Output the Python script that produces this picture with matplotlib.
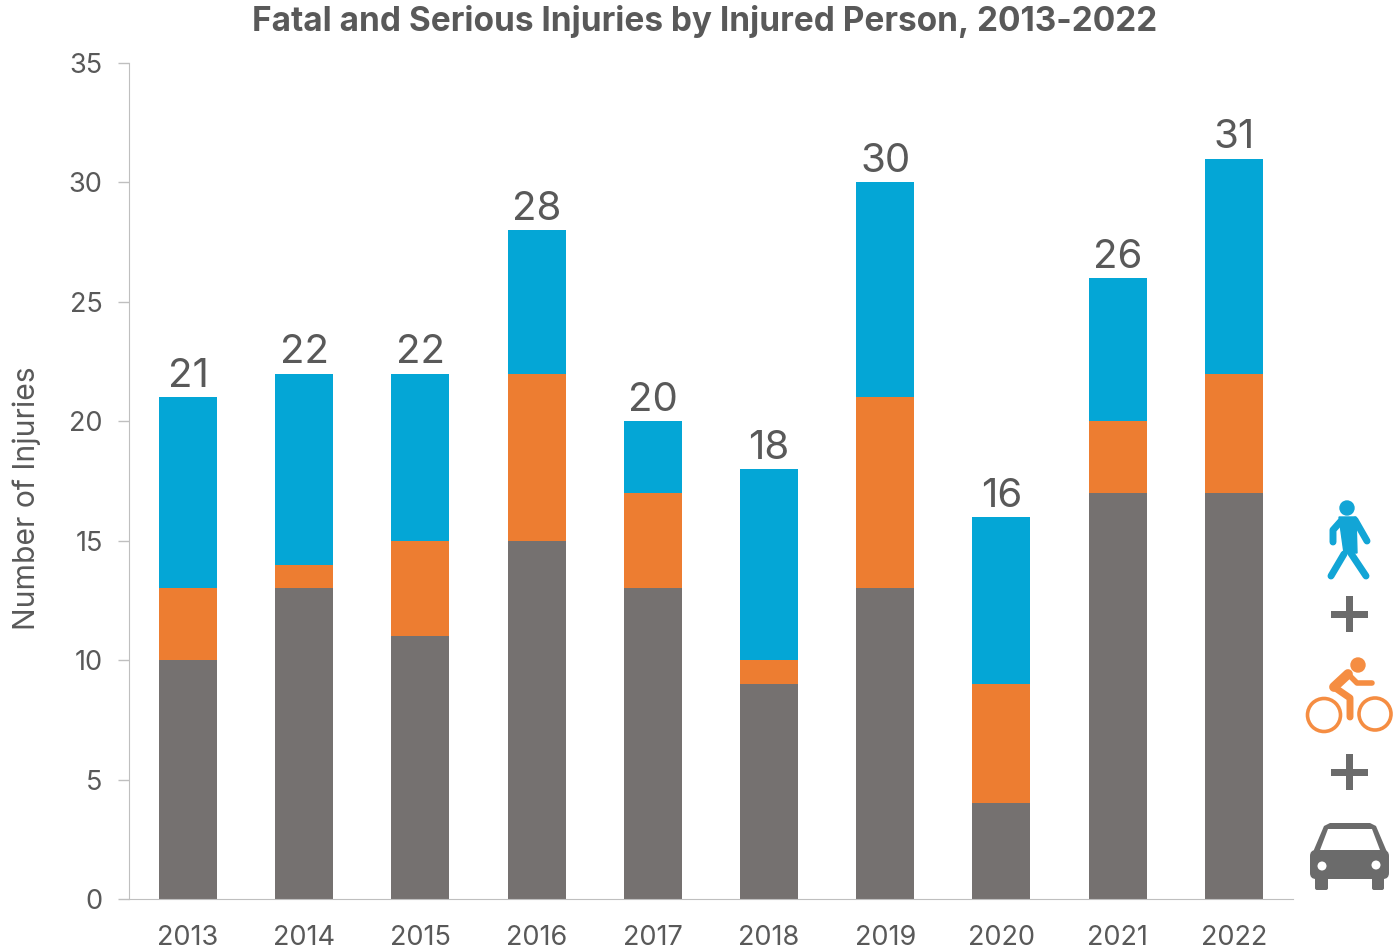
import matplotlib

matplotlib.use("Agg")

import matplotlib.pyplot as plt
from matplotlib.patches import Circle, FancyBboxPatch, Polygon, Rectangle

years = ["2013", "2014", "2015", "2016", "2017", "2018", "2019", "2020", "2021", "2022"]
motorists = [10, 13, 11, 15, 13, 9, 13, 4, 17, 17]
cyclists = [3, 1, 4, 7, 4, 1, 8, 5, 3, 5]
pedestrians = [8, 8, 7, 6, 3, 8, 9, 7, 6, 9]
totals = [21, 22, 22, 28, 20, 18, 30, 16, 26, 31]
y_ticks = [0, 5, 10, 15, 20, 25, 30, 35]

GREY = "#757170"
ORANGE = "#ED7D31"
BLUE = "#04A6D6"
TEXT = "#595959"
ICON_GREY = "#6B6B6B"
ICON_ORANGE = "#F58D42"
ICON_BLUE = "#12A5D6"
W, H = 1393, 950

plt.rcParams["font.family"] = ["Inter", "DejaVu Sans"]

fig = plt.figure(figsize=(W / 100, H / 100), dpi=100)
ax = fig.add_axes([129 / W, 1 - 899 / H, (1293 - 129) / W, (899 - 63) / H])

x = list(range(len(years)))
ax.bar(x, motorists, width=0.5, color=GREY)
ax.bar(x, cyclists, width=0.5, bottom=motorists, color=ORANGE)
bottoms = [m + c for m, c in zip(motorists, cyclists)]
ax.bar(x, pedestrians, width=0.5, bottom=bottoms, color=BLUE)

for pos, total in zip(x, totals):
    ax.annotate(str(total), (pos, total), xytext=(0, 1.5), textcoords="offset points",
                ha="center", va="bottom", fontsize=29, color=TEXT)

ax.set_xlim(-0.508, 9.51)
ax.set_ylim(0, 35)
ax.set_xticks(x, years)
ax.set_yticks(y_ticks)
ax.tick_params(axis="x", length=0, pad=19, labelsize=19.5, labelcolor=TEXT)
ax.tick_params(axis="y", length=8, width=1, color="#BFBFBF", pad=11, labelsize=19.5, labelcolor=TEXT)
ax.spines["top"].set_visible(False)
ax.spines["right"].set_visible(False)
ax.spines["left"].set_color("#BFBFBF")
ax.spines["bottom"].set_color("#BFBFBF")

fig.text(27 / W, 1 - 498 / H, "Number of Injuries", rotation=90,
         ha="center", va="center", fontsize=21.7, color=TEXT)
fig.text(705 / W, 1 - 22 / H, "Fatal and Serious Injuries by Injured Person, 2013-2022",
         ha="center", va="center", fontsize=24, fontweight="bold", color=TEXT)

# legend icons drawn in pixel coordinates
over = fig.add_axes([0, 0, 1, 1], facecolor="none")
over.set_xlim(0, W)
over.set_ylim(H, 0)
over.axis("off")


def stroke(points, color, lw):
    xs, ys = zip(*points)
    over.plot(xs, ys, color=color, lw=lw, solid_capstyle="round", solid_joinstyle="round")


# walker
over.add_patch(Circle((1347, 508), 7, color=ICON_BLUE))
over.add_patch(Polygon([(1339, 517), (1356, 517), (1357, 553), (1344, 553)], color=ICON_BLUE))
stroke([(1341, 521), (1333, 530), (1333, 542)], ICON_BLUE, 5)
stroke([(1355, 520), (1367, 541)], ICON_BLUE, 5)
stroke([(1344, 554), (1331, 576)], ICON_BLUE, 5)
stroke([(1350, 552), (1366, 576)], ICON_BLUE, 5)

# plus signs
for cy in (614, 772):
    over.add_patch(Rectangle((1331, cy - 3.5), 37, 7, color=ICON_GREY, lw=0))
    over.add_patch(Rectangle((1346, cy - 18), 7, 36, color=ICON_GREY, lw=0))

# cyclist
over.add_patch(Circle((1324, 715), 16.5, fill=False, ec=ICON_ORANGE, lw=2.6))
over.add_patch(Circle((1375, 714), 16, fill=False, ec=ICON_ORANGE, lw=2.6))
over.add_patch(Circle((1358, 665), 7, color=ICON_ORANGE))
stroke([(1334, 687), (1348, 674)], ICON_ORANGE, 7)
stroke([(1348, 674), (1357, 683), (1372, 683)], ICON_ORANGE, 4)
stroke([(1334, 687), (1350, 698), (1350, 717)], ICON_ORANGE, 5)

# car
over.add_patch(FancyBboxPatch((1310, 850), 79, 29, boxstyle="round,pad=0,rounding_size=6",
                              color=ICON_GREY, lw=0))
over.add_patch(Polygon([(1313, 852), (1324, 826), (1330, 823), (1370, 823), (1376, 826), (1387, 852)],
                       color=ICON_GREY, lw=0))
over.add_patch(Polygon([(1320, 850), (1328, 829), (1372, 829), (1380, 850)], color="white", lw=0))
over.add_patch(FancyBboxPatch((1315, 875), 13, 15, boxstyle="round,pad=0,rounding_size=2",
                              color=ICON_GREY, lw=0))
over.add_patch(FancyBboxPatch((1372, 875), 12, 15, boxstyle="round,pad=0,rounding_size=2",
                              color=ICON_GREY, lw=0))
over.add_patch(Circle((1322, 866), 4.5, color="white", lw=0))
over.add_patch(Circle((1376, 865), 4.5, color="white", lw=0))

fig.savefig("out.png", dpi=100)
